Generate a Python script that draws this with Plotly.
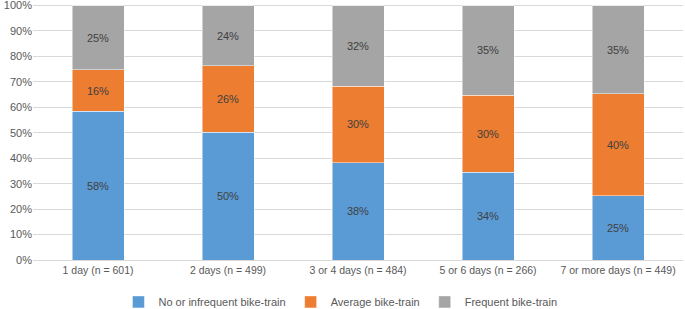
import plotly.graph_objects as go

categories = ["1 day (n = 601)", "2 days (n = 499)", "3 or 4 days (n = 484)",
              "5 or 6 days (n = 266)", "7 or more days (n = 449)"]
no_infrequent = [58.4, 50.3, 38.2, 34.4, 25.3]
average = [16.4, 26.1, 30.1, 30.4, 40.0]
frequent = [25.2, 23.6, 31.7, 35.2, 34.7]
y_ticks = [0, 10, 20, 30, 40, 50, 60, 70, 80, 90, 100]
y_tick_labels = [f"{v}%" for v in y_ticks]

series = [
    ("No or infrequent bike-train", no_infrequent, "#5B9BD5"),
    ("Average bike-train", average, "#ED7D31"),
    ("Frequent bike-train", frequent, "#A5A5A5"),
]

FONT = "Liberation Sans"
TXT = "#595959"

fig = go.Figure()
for name, vals, col in series:
    fig.add_trace(go.Bar(
        x=categories, y=vals, name=name,
        marker=dict(color=col, line=dict(color="rgba(255,255,255,0.6)", width=0.8)),
        texttemplate="%{y:.0f}%", textposition="inside", insidetextanchor="middle",
        textangle=0, constraintext="none",
        textfont=dict(family=FONT, size=11, color="#404040"),
        hoverinfo="skip",
    ))

fig.update_layout(
    barmode="stack", bargap=0.6,
    width=685, height=309,
    margin=dict(l=33, r=2, t=4, b=49, autoexpand=False),
    paper_bgcolor="white", plot_bgcolor="white",
    font=dict(family=FONT, size=11, color=TXT),
    showlegend=True,
    legend=dict(orientation="h", xref="container", yref="container",
                x=0.497, xanchor="center", y=0.023, yanchor="middle",
                font=dict(family=FONT, size=11, color=TXT),
                itemwidth=30, tracegroupgap=0, traceorder="normal"),
    xaxis=dict(showgrid=False, showline=True, linecolor="#D9D9D9", linewidth=1,
               ticks="", automargin=False,
               tickfont=dict(family=FONT, size=10.5, color=TXT)),
    yaxis=dict(range=[0, 100.6], tickmode="array", tickvals=y_ticks, ticktext=y_tick_labels,
               automargin=False, ticklabeloverflow="allow",
               showgrid=True, gridcolor="#D9D9D9", gridwidth=1,
               zeroline=False, showline=False, ticks="",
               tickfont=dict(family=FONT, size=11, color=TXT)),
)

fig.write_html("out.html", config={"displayModeBar": False},
               post_script="document.body.style.margin='0';document.body.style.overflow='hidden';")
